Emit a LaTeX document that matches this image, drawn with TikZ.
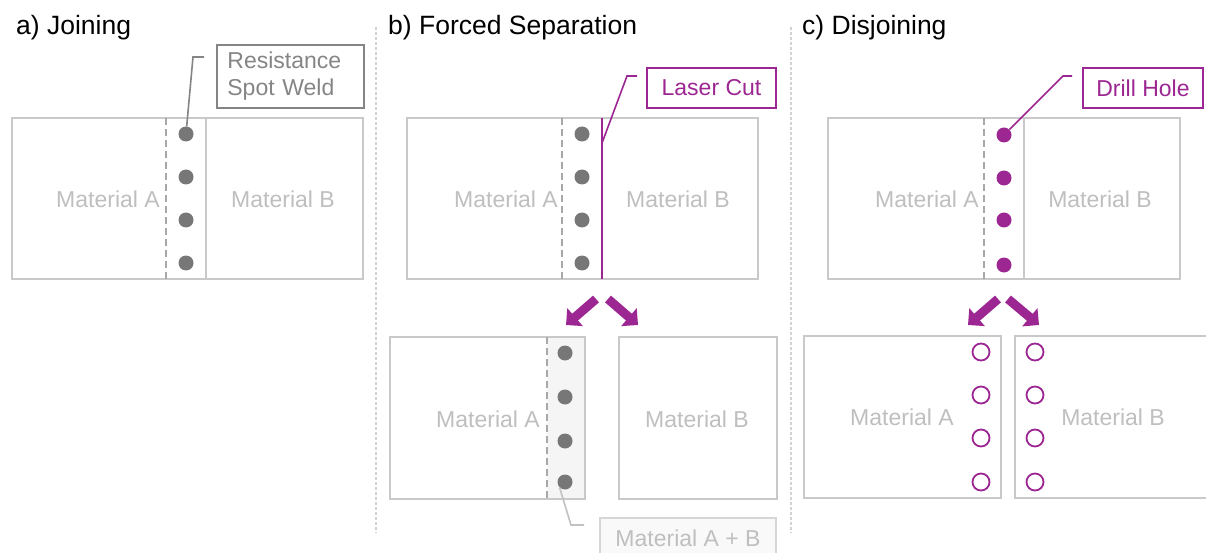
\documentclass[tikz,border=0pt]{standalone}
\usepackage{fontspec}
\setmainfont{Liberation Sans}
\usetikzlibrary{arrows.meta}

\definecolor{plategray}{HTML}{C9C9C9}
\definecolor{seamgray}{HTML}{A8A8A8}
\definecolor{weldgray}{HTML}{777777}
\definecolor{labelgray}{HTML}{BFBFBF}
\definecolor{calloutgray}{HTML}{858585}
\definecolor{cutpurple}{HTML}{9C2792}
\definecolor{stripgray}{HTML}{F5F5F5}
\definecolor{lightbox}{HTML}{D6D6D6}
\definecolor{sepgray}{HTML}{D2D2D2}

\tikzset{
  plate/.style={draw=plategray, line width=2pt},
  seam/.style={draw=seamgray, line width=1.6pt, dash pattern=on 7pt off 4pt},
  separator/.style={draw=sepgray, line width=1.4pt, dash pattern=on 3pt off 2pt},
  weld/.style={circle, fill=weldgray, inner sep=0pt, minimum size=15pt},
  drilled/.style={circle, fill=cutpurple, inner sep=0pt, minimum size=15pt},
  hole/.style={circle, draw=cutpurple, line width=1.8pt, fill=white, inner sep=0pt, minimum size=17pt},
  matlabel/.style={text=labelgray, font=\fontsize{23}{27}\selectfont, inner sep=0pt},
  paneltitle/.style={anchor=base west, inner sep=0pt, font=\fontsize{26.5}{30}\selectfont},
  graybox/.style={draw=calloutgray, line width=1.8pt, text=calloutgray,
    font=\fontsize{23}{27}\selectfont},
  purplebox/.style={draw=cutpurple, line width=1.8pt, text=cutpurple,
    font=\fontsize{23}{27}\selectfont},
  palebox/.style={draw=lightbox, fill=stripgray!60, line width=1.8pt, text=labelgray,
    font=\fontsize{23}{27}\selectfont},
  grayleader/.style={draw=calloutgray, line width=1.6pt},
  paleleader/.style={draw=lightbox!90!black, line width=1.6pt},
  purpleleader/.style={draw=cutpurple, line width=1.6pt},
  splitarrow/.style={draw=cutpurple, line width=9pt,
    -{Triangle[width=23pt, length=12pt, fill=cutpurple]}},
}

\begin{document}
\begin{tikzpicture}[x=1pt, y=-1pt]
\clip (0,0) rectangle (1206,553);
\fill[white] (0,0) rectangle (1206,553);

% panel separators
\draw[separator] (376,27) -- (376,533);
\draw[separator] (791,27) -- (791,533);

% ---------------- a) Joining ----------------
\node[paneltitle] (ta) at (16,35) {a) Joining};
\draw[plate] (12,118) rectangle (363,279);
\draw[plate] (206,118) -- (206,279);
\draw[seam] (166,118) -- (166,279);
\node[weld] (a1) at (186,134) {};
\node[weld] (a2) at (186,177) {};
\node[weld] (a3) at (186,220) {};
\node[weld] (a4) at (186,263) {};
\node[matlabel] (aA) at (108,199) {Material A};
\node[matlabel] (aB) at (283,199) {Material B};
\node[graybox, anchor=west, text width=126pt, inner xsep=10.5pt, align=left,
      minimum height=63pt] (aRSW) at (216,76.5) {Resistance\\Spot Weld};
\coordinate (aK) at (193,57);
\coordinate (aE) at (204,57);
\draw[grayleader] (a1) -- (aK) -- (aE);

% ---------------- b) Forced Separation ----------------
\node[paneltitle] (tb) at (388,35) {b) Forced Separation};
\draw[plate] (407,118) rectangle (758,279);
\draw[seam] (562,118) -- (562,279);
\node[weld] (b1) at (582,134) {};
\node[weld] (b2) at (582,177) {};
\node[weld] (b3) at (582,220) {};
\node[weld] (b4) at (582,263) {};
\draw[draw=cutpurple, line width=2pt] (602,118) -- (602,279);
\node[matlabel] (bA) at (506,199) {Material A};
\node[matlabel] (bB) at (678,199) {Material B};
\node[purplebox, minimum width=129pt, minimum height=40pt] (bLC) at (711.5,88) {Laser Cut};
\coordinate (bCut) at (602,143);
\coordinate (bK) at (627,76);
\coordinate (bE) at (637,76);
\draw[purpleleader] (bCut) -- (bK) -- (bE);

% split arrows
\coordinate (bL0) at (596,299);
\coordinate (bL1) at (566,325);
\coordinate (bR0) at (608,299);
\coordinate (bR1) at (638,325);
\draw[splitarrow] (bL0) -- (bL1);
\draw[splitarrow] (bR0) -- (bR1);

% separated parts
\fill[stripgray] (547,337) rectangle (585,499);
\draw[plate] (390,337) rectangle (585,499);
\draw[seam] (547,337) -- (547,499);
\node[weld] (s1) at (565,353) {};
\node[weld] (s2) at (565,397) {};
\node[weld] (s3) at (565,441) {};
\node[weld] (s4) at (565,482) {};
\draw[plate] (619,337) rectangle (777,499);
\node[matlabel] (sA) at (488,419) {Material A};
\node[matlabel] (sB) at (697,419) {Material B};
\node[palebox, minimum width=176pt, minimum height=40pt] (sAB) at (688,538) {Material A + B};
\coordinate (sK) at (571,525);
\coordinate (sE) at (584,525);
\draw[paleleader] (s4.225) -- (sK) -- (sE);

% ---------------- c) Disjoining ----------------
\node[paneltitle] (tc) at (802,35) {c) Disjoining};
\draw[plate] (828,118) rectangle (1180,279);
\draw[seam] (984,118) -- (984,279);
\draw[plate] (1024,118) -- (1024,279);
\node[drilled] (c1) at (1004,135) {};
\node[drilled] (c2) at (1004,178) {};
\node[drilled] (c3) at (1004,220) {};
\node[drilled] (c4) at (1004,265) {};
\node[matlabel] (cA) at (927,199) {Material A};
\node[matlabel] (cB) at (1100,199) {Material B};
\node[purplebox, minimum width=120pt, minimum height=40pt] (cDH) at (1143,88) {Drill Hole};
\coordinate (cK) at (1063,76);
\coordinate (cE) at (1072,76);
\draw[purpleleader] (c1) -- (cK) -- (cE);

% split arrows
\coordinate (cL0) at (998,299);
\coordinate (cL1) at (968,325);
\coordinate (cR0) at (1008,299);
\coordinate (cR1) at (1039,325);
\draw[splitarrow] (cL0) -- (cL1);
\draw[splitarrow] (cR0) -- (cR1);

% parts with open holes
\draw[plate] (804,336) rectangle (1001,498);
\draw[plate] (1015,336) rectangle (1215,498);
\node[hole] (h1) at (981,352) {};
\node[hole] (h2) at (981,395) {};
\node[hole] (h3) at (981,438) {};
\node[hole] (h4) at (981,482) {};
\node[hole] (k1) at (1035,352) {};
\node[hole] (k2) at (1035,395) {};
\node[hole] (k3) at (1035,438) {};
\node[hole] (k4) at (1035,482) {};
\node[matlabel] (dA) at (902,417) {Material A};
\node[matlabel] (dB) at (1113,417) {Material B};
\end{tikzpicture}
\end{document}
